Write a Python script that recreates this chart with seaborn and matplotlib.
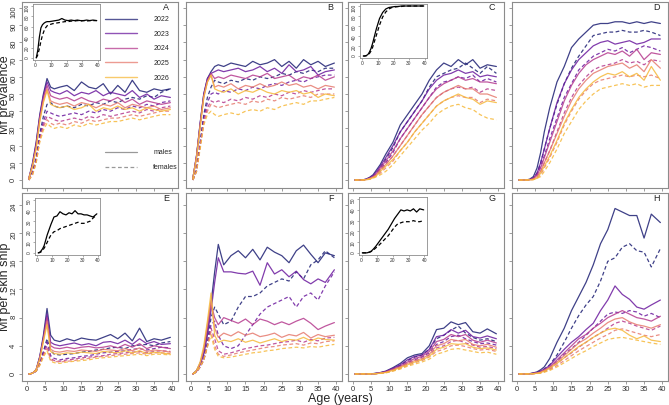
import matplotlib
matplotlib.use("Agg")
import matplotlib.pyplot as plt
from matplotlib.lines import Line2D
import seaborn as sns
import pandas as pd

# ages (years) where the model output is read
ages = [0.5, 1.5, 2.5, 3.5, 4.5, 5.5, 6.5, 7.5, 9, 11, 13, 15, 17, 19, 21, 23, 25, 27, 29, 31, 33, 35, 37, 39.5]
years = ["2022", "2023", "2024", "2025", "2026"]
year_colors = ["#1d1f73", "#6b1a9e", "#b53a8e", "#e67a6e", "#f6b93b"]

# ---- Mf prevalence (%) ----
A_males = {
    "2022": [1, 10, 22, 38, 50, 59, 54, 53, 54, 55, 52, 57, 54, 53, 56, 50, 55, 51, 58, 52, 51, 53, 52, 53],
    "2023": [1, 9, 21, 37, 49, 57, 52, 51, 50, 52, 49, 51, 50, 52, 49, 51, 50, 49, 52, 48, 50, 47, 49, 48],
    "2024": [1, 9, 20, 36, 48, 55, 49, 48, 47, 48, 46, 48, 46, 45, 47, 46, 48, 45, 47, 44, 46, 45, 44, 45],
    "2025": [1, 8, 19, 35, 46, 53, 46, 45, 44, 45, 43, 45, 44, 42, 44, 43, 45, 42, 44, 43, 42, 43, 41, 42],
    "2026": [1, 8, 18, 34, 45, 52, 44, 43, 42, 43, 41, 42, 44, 40, 42, 41, 43, 41, 42, 40, 42, 41, 40, 41],
}
A_females = {
    "2022": [0, 5, 13, 27, 37, 44, 45, 43, 42, 43, 42, 44, 43, 45, 44, 46, 45, 47, 48, 47, 49, 48, 51, 53],
    "2023": [0, 4, 12, 25, 34, 40, 39, 38, 37, 38, 39, 38, 40, 39, 41, 40, 42, 41, 43, 42, 44, 43, 45, 46],
    "2024": [0, 4, 11, 24, 32, 37, 36, 35, 34, 35, 36, 35, 37, 36, 38, 37, 38, 39, 40, 39, 41, 40, 42, 43],
    "2025": [0, 3, 10, 23, 31, 35, 33, 32, 33, 32, 34, 33, 35, 34, 35, 36, 36, 37, 38, 37, 38, 39, 40, 40],
    "2026": [0, 3, 10, 22, 29, 33, 31, 30, 31, 30, 32, 31, 33, 32, 33, 34, 34, 35, 36, 35, 36, 37, 38, 38],
}
B_males = {
    "2022": [1, 14, 33, 50, 59, 63, 66, 67, 66, 68, 67, 66, 69, 67, 68, 70, 66, 69, 65, 70, 67, 69, 66, 68],
    "2023": [1, 14, 33, 50, 59, 62, 63, 64, 63, 64, 65, 63, 64, 66, 63, 65, 62, 67, 63, 64, 66, 61, 63, 64],
    "2024": [1, 14, 32, 49, 58, 62, 59, 60, 59, 61, 60, 59, 61, 60, 62, 59, 60, 61, 58, 60, 59, 61, 58, 60],
    "2025": [1, 13, 31, 48, 57, 61, 54, 55, 54, 56, 53, 55, 54, 56, 54, 55, 57, 55, 56, 54, 55, 53, 55, 54],
    "2026": [1, 13, 31, 48, 57, 61, 53, 52, 51, 53, 50, 52, 51, 53, 51, 50, 52, 51, 52, 50, 51, 48, 50, 49],
}
B_females = {
    "2022": [0, 6, 22, 38, 48, 54, 58, 57, 56, 58, 57, 59, 58, 60, 59, 60, 62, 61, 63, 62, 64, 63, 65, 65],
    "2023": [0, 6, 21, 36, 45, 50, 51, 50, 52, 51, 53, 52, 54, 53, 55, 56, 55, 57, 58, 57, 59, 60, 61, 61],
    "2024": [0, 5, 20, 34, 42, 46, 45, 46, 45, 47, 46, 48, 47, 49, 48, 50, 49, 51, 50, 52, 51, 52, 53, 53],
    "2025": [0, 5, 19, 33, 40, 44, 43, 42, 43, 44, 45, 44, 46, 45, 47, 46, 48, 47, 48, 49, 48, 50, 50, 50],
    "2026": [0, 5, 18, 32, 38, 40, 38, 37, 38, 39, 38, 40, 41, 40, 42, 41, 43, 44, 45, 44, 46, 46, 47, 48],
}
C_males = {
    "2022": [0, 0, 0, 0.5, 1.5, 3, 6, 9, 15, 22, 32, 38, 44, 50, 58, 64, 68, 66, 70, 67, 70, 65, 67, 66],
    "2023": [0, 0, 0, 0.4, 1.2, 2.5, 5, 8, 13, 20, 28, 34, 40, 46, 53, 58, 61, 62, 64, 62, 63, 60, 61, 60],
    "2024": [0, 0, 0, 0.3, 1, 2, 4, 7, 11, 17, 24, 30, 36, 42, 48, 53, 56, 58, 60, 58, 59, 57, 57, 56],
    "2025": [0, 0, 0, 0.2, 0.8, 1.6, 3.2, 6, 9, 14, 20, 26, 32, 38, 43, 48, 51, 53, 55, 53, 53, 50, 50, 48],
    "2026": [0, 0, 0, 0.1, 0.6, 1.3, 2.6, 5, 8, 12, 17, 22, 28, 33, 38, 43, 46, 48, 50, 48, 47, 44, 46, 45],
}
C_females = {
    "2022": [0, 0, 0, 0.3, 1, 2, 4, 7, 12, 19, 28, 34, 40, 46, 54, 60, 62, 64, 65, 68, 65, 62, 66, 62],
    "2023": [0, 0, 0, 0.2, 0.8, 1.8, 3.5, 6, 10, 16, 24, 30, 36, 42, 48, 54, 57, 58, 60, 59, 61, 57, 59, 57],
    "2024": [0, 0, 0, 0.2, 0.6, 1.5, 3, 5, 9, 14, 20, 26, 32, 38, 43, 48, 51, 53, 54, 53, 54, 51, 53, 52],
    "2025": [0, 0, 0, 0.1, 0.5, 1.2, 2.5, 4, 7, 11, 17, 22, 28, 33, 38, 43, 46, 48, 49, 48, 48, 45, 47, 46],
    "2026": [0, 0, 0, 0.1, 0.4, 1, 2, 3, 5, 9, 14, 19, 24, 29, 33, 38, 41, 43, 44, 42, 41, 38, 36, 35],
}
D_males = {
    "2022": [0, 0, 0, 0.5, 2, 7, 16, 28, 42, 57, 66, 77, 82, 86, 90, 91, 91, 92, 92, 91, 92, 91, 92, 91],
    "2023": [0, 0, 0, 0.3, 1, 4, 10, 18, 30, 45, 56, 64, 70, 74, 78, 80, 81, 79, 80, 81, 79, 80, 82, 82],
    "2024": [0, 0, 0, 0.2, 1, 3, 7, 13, 22, 34, 46, 55, 62, 67, 70, 72, 74, 73, 75, 72, 76, 70, 74, 73],
    "2025": [0, 0, 0, 0.1, 0.5, 2, 5, 10, 17, 27, 37, 46, 53, 58, 62, 64, 66, 67, 68, 65, 67, 63, 70, 65],
    "2026": [0, 0, 0, 0.1, 0.3, 1, 4, 8, 14, 23, 33, 41, 48, 53, 57, 60, 62, 61, 63, 60, 62, 58, 66, 58],
}
D_females = {
    "2022": [0, 0, 0, 0.3, 1, 4, 10, 18, 30, 44, 56, 65, 72, 78, 84, 85, 86, 86, 87, 86, 86, 87, 86, 84],
    "2023": [0, 0, 0, 0.2, 1, 3, 8, 14, 24, 36, 48, 56, 64, 68, 72, 74, 76, 75, 77, 74, 76, 78, 77, 75],
    "2024": [0, 0, 0, 0.1, 0.5, 2, 5, 10, 17, 28, 39, 48, 55, 60, 64, 66, 67, 68, 70, 68, 69, 67, 70, 69],
    "2025": [0, 0, 0, 0.1, 0.3, 1, 3, 7, 13, 22, 32, 40, 47, 52, 56, 58, 59, 60, 61, 60, 61, 60, 61, 59],
    "2026": [0, 0, 0, 0, 0.2, 1, 2, 5, 10, 18, 27, 34, 41, 46, 50, 53, 54, 55, 56, 55, 56, 54, 55, 55],
}

# ---- Mf per skin snip ----
E_males = {
    "2022": [0, 0.1, 0.6, 2.5, 5.5, 9.3, 5.5, 4.8, 4.6, 5, 4.7, 5.1, 4.9, 4.8, 5.2, 5.6, 5, 5.8, 4.7, 6.5, 4.6, 5, 4.8, 5.2],
    "2023": [0, 0.1, 0.6, 2.4, 5.2, 8.5, 4.5, 4.2, 4, 4.2, 4.4, 4.1, 4.3, 4, 4.5, 4.6, 4.3, 4.8, 4.2, 5, 4.3, 4.6, 4.2, 4.3],
    "2024": [0, 0.1, 0.6, 2.3, 5, 8, 4, 3.7, 3.6, 3.8, 3.6, 3.8, 3.9, 3.7, 3.8, 4, 3.7, 4.2, 3.8, 4.3, 3.6, 4, 3.8, 3.6],
    "2025": [0, 0.1, 0.6, 2.2, 4.8, 7.5, 3.5, 3.2, 3.1, 3.3, 3.2, 3.4, 3.3, 3.2, 3.5, 3.4, 3.3, 3.6, 3.3, 3.7, 3.2, 3.4, 3.3, 3.1],
    "2026": [0, 0.1, 0.6, 2.1, 4.6, 7, 3.2, 2.9, 2.8, 3, 2.9, 3.1, 3, 2.9, 3.2, 3.1, 3, 3.3, 3, 3.3, 2.9, 3.1, 3, 2.8],
}
E_females = {
    "2022": [0, 0.1, 0.4, 1.6, 3.2, 5, 3.3, 2.8, 2.7, 2.8, 2.9, 3.1, 3.2, 3.4, 3.5, 3.7, 3.8, 3.6, 4, 4.1, 4.2, 4, 4.4, 4.6],
    "2023": [0, 0.1, 0.4, 1.5, 3, 4.5, 2.6, 2.2, 2, 2.2, 2.3, 2.5, 2.6, 2.8, 3, 3.1, 3.2, 3.3, 3.5, 3.6, 3.4, 3.6, 3.8, 3.7],
    "2024": [0, 0.1, 0.4, 1.4, 2.8, 4, 2.2, 1.9, 1.8, 2, 2.1, 2.3, 2.4, 2.5, 2.6, 2.8, 2.9, 3, 3.1, 3.2, 3, 3.2, 3.3, 3.2],
    "2025": [0, 0.1, 0.4, 1.3, 2.6, 3.6, 2, 1.8, 1.7, 1.8, 1.9, 2.1, 2.2, 2.4, 2.5, 2.6, 2.7, 2.8, 2.9, 3, 2.8, 3, 3, 2.9],
    "2026": [0, 0.1, 0.4, 1.2, 2.4, 3.3, 1.8, 1.6, 1.5, 1.7, 1.8, 1.9, 2, 2.2, 2.3, 2.4, 2.5, 2.6, 2.7, 2.8, 2.6, 2.8, 2.8, 2.7],
}
F_males = {
    "2022": [0, 0.5, 1.5, 3, 6, 10, 14.5, 18.4, 15.5, 16.8, 17.5, 16.5, 17.7, 16.2, 18, 17.3, 16.8, 15.8, 17.5, 18.3, 17, 15.8, 17.2, 16.8],
    "2023": [0, 0.4, 1.3, 2.8, 5.5, 9, 13, 16.5, 14.5, 14.5, 14.3, 14.2, 14.6, 12.6, 15.8, 14.2, 14.8, 13.8, 14.6, 13.4, 12.8, 13.5, 13, 14.8],
    "2024": [0, 0.4, 1.5, 3.5, 6.5, 10, 8, 7, 8, 7.6, 7.2, 7.8, 7, 7.8, 7.5, 7, 7.4, 7, 7.5, 7.9, 7.2, 6.3, 6.8, 7.3],
    "2025": [0, 0.4, 1.5, 3.5, 7, 10.5, 6.5, 5.2, 5.8, 5.4, 6, 5.5, 5.8, 5.3, 5.5, 5.8, 5.2, 5.6, 5.4, 5.9, 5.1, 5.6, 5.3, 5.5],
    "2026": [0, 0.5, 1.7, 4, 7.5, 11.5, 5.5, 4.5, 4.8, 4.6, 5, 4.5, 4.8, 4.4, 4.7, 5, 4.6, 4.9, 4.8, 5.2, 4.7, 5.1, 4.9, 4.8],
}
F_females = {
    "2022": [0, 0.3, 1, 2.2, 4.5, 8, 9.5, 8.5, 7, 7.5, 9.5, 11, 11, 11.5, 12.5, 13, 13.5, 13.2, 14.5, 13.5, 15.5, 16.2, 17.5, 16.5],
    "2023": [0, 0.3, 1, 2, 4, 7, 7.5, 5.5, 4, 3.6, 4, 5.5, 7, 8.5, 9.5, 10, 10.5, 11, 9.5, 11, 11.5, 10.5, 12.5, 14.5],
    "2024": [0, 0.3, 1, 2, 4, 6.5, 5, 3.3, 2.8, 3, 3.3, 3.6, 3.8, 4, 4.1, 4.3, 4.5, 4.6, 4.8, 4.5, 4.9, 4.7, 5.1, 5.2],
    "2025": [0, 0.3, 1, 2, 4, 6, 4, 2.8, 2.5, 2.7, 3, 3.2, 3.4, 3.6, 3.8, 3.9, 4.1, 4.2, 4.3, 4.1, 4.4, 4.3, 4.6, 4.7],
    "2026": [0, 0.3, 1, 2, 3.8, 5.5, 3.5, 2.5, 2.3, 2.4, 2.6, 2.8, 3, 3.1, 3.3, 3.4, 3.6, 3.7, 3.8, 3.7, 3.9, 3.8, 4, 4.2],
}
G_males = {
    "2022": [0, 0, 0, 0, 0, 0.05, 0.1, 0.2, 0.4, 0.9, 1.5, 2.3, 2.7, 2.9, 4, 6.3, 6.5, 7.4, 7, 7.3, 6, 5.8, 6.4, 5.7],
    "2023": [0, 0, 0, 0, 0, 0.04, 0.09, 0.18, 0.35, 0.8, 1.3, 2, 2.5, 2.7, 3.5, 5.3, 5.5, 6.3, 5.8, 6.2, 5.3, 5.1, 5.4, 5],
    "2024": [0, 0, 0, 0, 0, 0.03, 0.07, 0.15, 0.3, 0.7, 1.1, 1.7, 2.2, 2.5, 3.2, 4.6, 4.9, 5.6, 5.3, 5.6, 4.8, 4.5, 4.8, 4.4],
    "2025": [0, 0, 0, 0, 0, 0.03, 0.06, 0.12, 0.25, 0.6, 1, 1.5, 1.9, 2.2, 2.8, 4, 4.3, 4.9, 4.7, 4.9, 4.2, 4, 4.2, 3.8],
    "2026": [0, 0, 0, 0, 0, 0.02, 0.05, 0.1, 0.2, 0.5, 0.9, 1.3, 1.7, 2, 2.5, 3.5, 3.8, 4.3, 4.2, 4.3, 3.8, 3.6, 3.7, 3.4],
}
G_females = {
    "2022": [0, 0, 0, 0, 0, 0.03, 0.08, 0.15, 0.3, 0.7, 1.2, 1.9, 2.4, 2.7, 3.5, 5, 5.5, 6.2, 6.8, 5.8, 5.2, 4.8, 5, 4.6],
    "2023": [0, 0, 0, 0, 0, 0.03, 0.07, 0.13, 0.25, 0.6, 1, 1.6, 2, 2.4, 3, 4.2, 4.6, 5.3, 5.5, 5, 4.6, 4.3, 4.4, 4.1],
    "2024": [0, 0, 0, 0, 0, 0.02, 0.06, 0.11, 0.2, 0.5, 0.9, 1.4, 1.8, 2.1, 2.7, 3.7, 4, 4.6, 4.8, 4.4, 4.1, 3.8, 3.9, 3.6],
    "2025": [0, 0, 0, 0, 0, 0.02, 0.05, 0.1, 0.18, 0.45, 0.8, 1.2, 1.6, 1.9, 2.4, 3.2, 3.5, 4, 4.1, 3.9, 3.6, 3.4, 3.5, 3.2],
    "2026": [0, 0, 0, 0, 0, 0.01, 0.04, 0.08, 0.15, 0.4, 0.7, 1.1, 1.4, 1.7, 2.1, 2.8, 3.1, 3.5, 3.6, 3.4, 3.2, 3, 3.1, 2.8],
}
H_males = {
    "2022": [0, 0, 0, 0.05, 0.15, 0.3, 0.6, 1, 2.2, 4.5, 6.5, 9, 11, 13, 15.5, 18.5, 20.5, 23.5, 23, 22.5, 22.5, 19.3, 22.7, 21.5],
    "2023": [0, 0, 0, 0.03, 0.1, 0.2, 0.4, 0.7, 1.2, 2.4, 3.5, 4.5, 5.3, 6.3, 7.2, 9, 10.5, 12.5, 11.3, 10.6, 9.5, 9.2, 9.8, 10.5],
    "2024": [0, 0, 0, 0.02, 0.08, 0.15, 0.3, 0.6, 1, 2, 3, 4, 5, 5.6, 6.5, 7.2, 8, 8.5, 9, 8.5, 8, 7.8, 7.5, 8.2],
    "2025": [0, 0, 0, 0.02, 0.06, 0.12, 0.25, 0.5, 0.9, 1.7, 2.6, 3.5, 4.4, 5, 5.8, 6.5, 7.3, 7.8, 8, 7.4, 7, 6.8, 6.5, 7],
    "2026": [0, 0, 0, 0.01, 0.05, 0.1, 0.2, 0.4, 0.8, 1.5, 2.3, 3.1, 3.9, 4.5, 5.2, 5.8, 6.3, 6.5, 6.2, 5.5, 5, 5.4, 4.8, 4.6],
}
H_females = {
    "2022": [0, 0, 0, 0.03, 0.1, 0.2, 0.4, 0.7, 1.3, 2.7, 4.5, 6.5, 8.3, 9.8, 11, 13.2, 16, 16.5, 18, 18.5, 17.5, 17.3, 15.2, 17.8],
    "2023": [0, 0, 0, 0.02, 0.07, 0.15, 0.3, 0.5, 0.9, 1.8, 2.8, 3.6, 4.5, 5.5, 6.5, 7.5, 8.5, 8.8, 8.6, 9, 8.8, 8.2, 8.6, 8],
    "2024": [0, 0, 0, 0.02, 0.05, 0.1, 0.2, 0.4, 0.7, 1.5, 2.3, 3, 3.8, 4.5, 5.2, 5.8, 6.5, 7.2, 7.5, 7.2, 6.8, 6.5, 6.2, 6.8],
    "2025": [0, 0, 0, 0.01, 0.04, 0.08, 0.15, 0.3, 0.6, 1.2, 1.9, 2.6, 3.3, 3.9, 4.5, 5.1, 5.6, 6.2, 6.4, 6.1, 5.8, 5.5, 5.3, 5.6],
    "2026": [0, 0, 0, 0.01, 0.03, 0.06, 0.12, 0.25, 0.5, 1, 1.6, 2.2, 2.8, 3.3, 3.9, 4.4, 4.9, 5.1, 5.2, 5, 4.8, 4.6, 4.4, 4.2],
}

# ---- inset series (black) ----
insA_males = [0, 15, 40, 58, 64, 67, 69, 70, 70, 71, 72, 73, 76, 73, 72, 73, 72, 73, 72, 72, 73, 72, 73, 72]
insA_females = [0, 6, 18, 32, 44, 52, 58, 62, 64, 66, 67, 68, 69, 70, 70, 71, 71, 72, 71, 72, 71, 72, 72, 72]
insC_males = [0, 0, 1, 3, 8, 15, 25, 37, 55, 75, 87, 94, 97, 98, 99, 99, 100, 100, 100, 100, 100, 100, 100, 100]
insC_females = [0, 0, 0.5, 2, 5, 10, 17, 27, 42, 62, 78, 88, 94, 97, 98, 99, 99, 100, 100, 100, 100, 100, 100, 100]
insE_males = [0, 0.5, 2, 4, 7, 12, 17, 21, 27, 34, 35, 39, 37, 36, 38, 37, 40, 37, 37, 36, 36, 35, 34, 37]
insE_females = [0, 0.3, 1, 2.5, 4.5, 7, 10, 13, 17, 20, 21, 23, 24, 25, 26, 27, 28, 29, 28, 28, 29, 30, 33, 36]
insG_males = [0, 0, 0, 0, 0.5, 1, 2, 3.5, 6, 10, 14, 18, 22, 27, 32, 36, 40, 39, 40, 39, 41, 38, 41, 40]
insG_females = [0, 0, 0, 0, 0.3, 0.8, 1.5, 2.5, 4.5, 7, 10, 13, 16, 20, 24, 27, 28, 29, 29, 29, 30, 29, 29, 30]


def long_df(males, females):
    rows = []
    for sex, d in (("males", males), ("females", females)):
        for yr, vals in d.items():
            for a, v in zip(ages, vals):
                rows.append((a, v, yr, sex))
    return pd.DataFrame(rows, columns=["age", "value", "year", "sex"])


sns.set_style("white")
plt.rcParams["font.family"] = ["Liberation Sans", "DejaVu Sans"]

W, H = 669, 405
fig = plt.figure(figsize=(W / 100, H / 100), dpi=100)


def px_axes(l, t, r, b):
    return fig.add_axes([l / W, 1 - b / H, (r - l) / W, (b - t) / H])


frame_col = "#8c8c8c"
dash_map = {"males": "", "females": (3, 2)}
palette = dict(zip(years, year_colors))

col_left = [22, 186, 348, 512]
rows_px = [(2, 188), (193, 381)]

panels = [
    ("A", A_males, A_females, 0, 0, (insA_males, insA_females)),
    ("B", B_males, B_females, 1, 0, None),
    ("C", C_males, C_females, 2, 0, (insC_males, insC_females)),
    ("D", D_males, D_females, 3, 0, None),
    ("E", E_males, E_females, 0, 1, (insE_males, insE_females)),
    ("F", F_males, F_females, 1, 1, None),
    ("G", G_males, G_females, 2, 1, (insG_males, insG_females)),
    ("H", H_males, H_females, 3, 1, None),
]
inset_px = {"A": (33, 4, 100, 60), "C": (360, 4, 427, 58),
            "E": (35, 198, 100, 255), "G": (359, 197, 427, 255)}


def style_axes(ax, lw=0.8):
    for sp in ax.spines.values():
        sp.set_color(frame_col)
        sp.set_linewidth(lw)


axes = {}
for letter, males, females, c, r, ins in panels:
    top, bot = rows_px[r]
    ax = px_axes(col_left[c], top, col_left[c] + 156, bot)
    axes[letter] = ax
    df = long_df(males, females)
    sns.lineplot(data=df, x="age", y="value", hue="year", style="sex",
                 hue_order=years, style_order=["males", "females"],
                 palette=palette, dashes=dash_map, estimator=None, sort=False,
                 lw=0.9, alpha=0.85, legend=False, ax=ax)
    ax.set_xlim(-1.4, 41.6)
    ax.set_xticks(range(0, 41, 5))
    if r == 0:
        ax.set_ylim(-4.65, 103.5)
        ax.set_yticks(range(0, 101, 10))
    else:
        ax.set_ylim(-1.0, 25.7)
        ax.set_yticks(range(0, 25, 4))
    ax.set_xlabel("")
    ax.set_ylabel("")
    style_axes(ax)
    ax.tick_params(direction="out", length=2.5, width=0.6, color=frame_col,
                   labelsize=5.5, labelcolor="#333333", pad=1,
                   left=True, bottom=True)
    ax.tick_params(axis="y", labelrotation=90)
    if c != 0:
        ax.set_yticklabels([])
    if r == 0:
        ax.set_xticklabels([])
    ax.text(0.945, 0.995, letter, transform=ax.transAxes, ha="right", va="top",
            fontsize=6.5, color="#222222")

    if ins is not None:
        l, t, rr, b = inset_px[letter]
        iax = px_axes(l, t, rr, b)
        idf = pd.DataFrame({"age": ages * 2, "value": ins[0] + ins[1],
                            "sex": ["males"] * len(ages) + ["females"] * len(ages)})
        sns.lineplot(data=idf, x="age", y="value", style="sex",
                     style_order=["males", "females"], dashes=dash_map,
                     color="black", estimator=None, sort=False, lw=0.9,
                     legend=False, ax=iax)
        iax.set_xlim(-1.6, 41.6)
        iax.set_xticks(range(0, 41, 10))
        if r == 0:
            iax.set_ylim(-4, 104)
            iax.set_yticks(range(0, 101, 20))
        else:
            iax.set_ylim(-2, 52)
            iax.set_yticks(range(0, 51, 10))
        iax.set_xlabel("")
        iax.set_ylabel("")
        style_axes(iax, 0.6)
        iax.tick_params(direction="out", length=1.5, width=0.5, color=frame_col,
                        labelsize=3.5, labelcolor="#333333", pad=1,
                        left=True, bottom=True)
        iax.tick_params(axis="y", labelrotation=90)

# legends in panel A
axA = axes["A"]
year_handles = [Line2D([], [], color=col, lw=1.0, alpha=0.75) for col in year_colors]
leg1 = axA.legend(year_handles, years, loc="upper left", bbox_to_anchor=(0.53, 0.925),
                  frameon=False, fontsize=5, handlelength=4.6, handletextpad=2.4,
                  labelspacing=1.1, borderpad=0, borderaxespad=0)
axA.add_artist(leg1)
sex_handles = [Line2D([], [], color="#999999", lw=0.9),
               Line2D([], [], color="#999999", lw=0.9, dashes=(3, 2))]
axA.legend(sex_handles, ["males", "females"], loc="upper left", bbox_to_anchor=(0.53, 0.21),
           frameon=False, fontsize=5, handlelength=4.6, handletextpad=2.4,
           labelspacing=1.2, borderpad=0, borderaxespad=0)

fig.text(5 / W, 1 - 95 / H, "Mf prevalence", rotation=90, ha="center", va="center", fontsize=9)
fig.text(5 / W, 1 - 287 / H, "Mf per skin snip", rotation=90, ha="center", va="center", fontsize=9)
fig.text(340 / W, 1 - 399 / H, "Age (years)", ha="center", va="center", fontsize=9)

fig.savefig("out.png", dpi=100)
